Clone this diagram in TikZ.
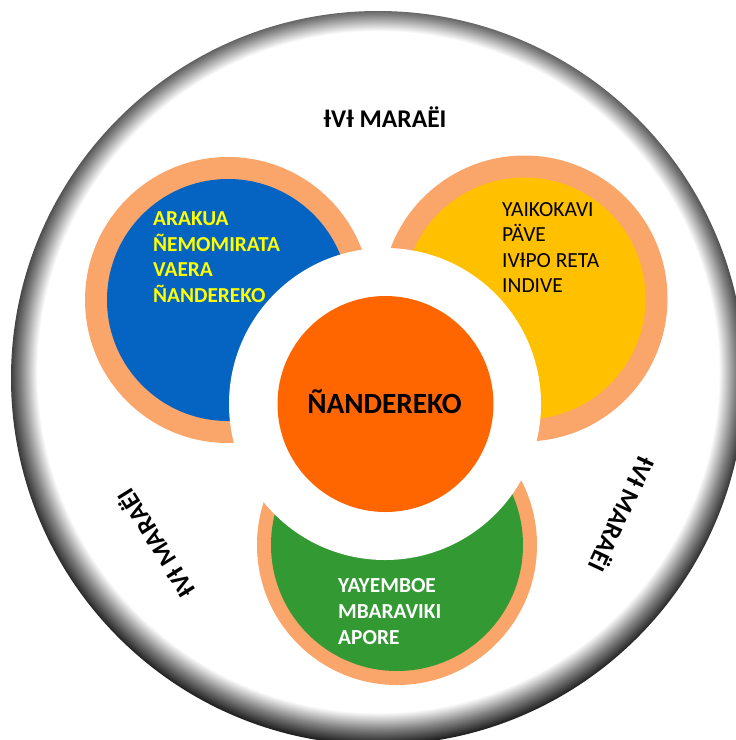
\documentclass[tikz,border=0pt]{standalone}
\usepackage{fontspec}
\setmainfont{Carlito}
\definecolor{peach}{HTML}{FAA56A}
\definecolor{cblue}{HTML}{0563C1}
\definecolor{cyellow}{HTML}{FFC000}
\definecolor{corange}{HTML}{FF6600}
\definecolor{cgreen}{HTML}{339933}
\definecolor{ctext}{HTML}{FFFF00}
\pgfdeclareradialshading{rimshade}{\pgfpoint{0bp}{0.8bp}}{color(0bp)=(white); color(23.2bp)=(white); color(24.3bp)=(black!48); color(25.3bp)=(black!87); color(50bp)=(black!87)}
\tikzset{
  lbl/.style={font=\bfseries\fontsize{25.5}{25.5}\selectfont, inner sep=0pt},
  blocktxt/.style={anchor=north west, align=left, inner sep=0pt, font=\fontsize{21.5}{25.5}\selectfont},
}
\begin{document}
\begin{tikzpicture}[x=1pt,y=-1pt]
\useasboundingbox (0,0) rectangle (736,740);
\clip (0,0) rectangle (736,740);
\fill[white] (0,0) rectangle (736,740);
% outer disc
\shade[shading=rimshade] (378,378) circle[radius=367pt];
% peach rings
\fill[peach] (228,300) circle[radius=143pt];
\fill[peach] (524.5,298.5) circle[radius=143pt];
\fill[peach] (397,545) circle[radius=140pt];
% inner discs
\fill[cblue] (228,300) circle[radius=121pt];
\fill[cyellow] (524.5,298.5) circle[radius=121pt];
\fill[cgreen] (397,545) circle[radius=126pt];
% white disc and centre
\fill[white] (385,404) circle[radius=156pt];
\fill[corange] (385.5,404) circle[radius=108pt];
% texts
\node[lbl] (toplbl) at (385,117) {ƗVƗ MARAËI};
\node[lbl, rotate=122] (leftlbl) at (155,544) {ƗVƗ MARAËI};
\node[lbl, rotate=-115] (rightlbl) at (623,515) {ƗVƗ MARAËI};
\node[font=\bfseries\fontsize{29.3}{29.3}\selectfont, inner sep=0pt] (ctr) at (384.5,402) {ÑANDEREKO};
\node[blocktxt, text=ctext, font=\bfseries\fontsize{21.3}{25.5}\selectfont] (bluetxt) at (153,211.5) {ARAKUA\\ÑEMOMIRATA\\VAERA\\ÑANDEREKO};
\node[blocktxt, text=black] (yellowtxt) at (502,202) {YAIKOKAVI\\PÄVE\\IVƗPO RETA\\INDIVE};
\node[blocktxt, text=white, font=\bfseries\fontsize{21.4}{26}\selectfont] (greentxt) at (338,578.5) {YAYEMBOE\\MBARAVIKI\\APORE};
\end{tikzpicture}
\end{document}
